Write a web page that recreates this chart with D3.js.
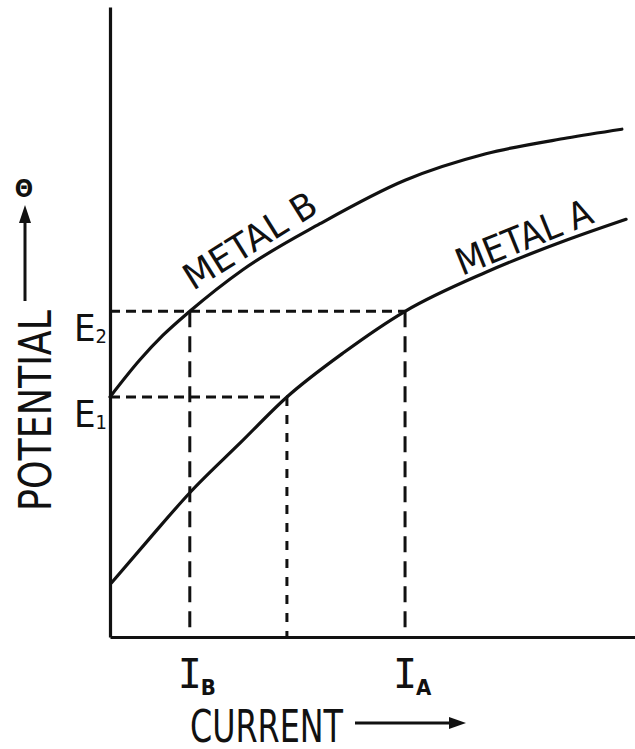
<!DOCTYPE html>
<html>
<head>
<meta charset="utf-8">
<script src="https://cdn.jsdelivr.net/npm/d3@7"></script>
<style>
  html, body { margin: 0; padding: 0; background: #fff; }
  svg { display: block; }
  text { fill: #111; }
</style>
</head>
<body>
<svg id="chart" width="635" height="749"></svg>
<script>
// Polarisation curves of two metals: potential against current.
const metalBCurrent   = [0, 5.7, 10.1, 15.2, 25.3, 40.0, 56.2, 71.6, 87.0, 97.5];
const metalBPotential = [38.1, 44.0, 47.9, 51.7, 58.3, 65.6, 72.5, 76.7, 79.2, 80.6];
const metalACurrent   = [0.3, 7.6, 15.2, 24.8, 33.7, 44.6, 56.2, 71.6, 87.0, 98.3];
const metalAPotential = [8.6, 15.7, 22.9, 30.8, 38.1, 45.2, 51.7, 57.9, 63.0, 66.3];

// Reference potentials and the currents where they meet the curves.
const levelNames  = ["1", "2"];           // subscripts of E
const levelValues = [38.1, 51.7];         // E1, E2
const levelReach  = [33.7, 56.2];         // current where each level meets metal A
const currentNames  = ["B", "A"];         // subscripts of I
const currentValues = [15.2, 56.2];       // IB, IA
const currentFloor  = [51.7, 51.7];       // potential where each current line starts
const midCurrent = 33.7;                  // metal A at E1
const midPotential = 38.1;

const svg = d3.select("#chart");
const ink = "#111";

const x = d3.scaleLinear().domain([0, 100]).range([110, 635]);
const y = d3.scaleLinear().domain([0, 100]).range([637, 7]);

// Axes: bare lines, no ticks
const xAxis = svg.append("g").attr("transform", `translate(0,${y(0)})`)
  .call(d3.axisBottom(x).tickValues([]).tickSizeOuter(0));
const yAxis = svg.append("g").attr("transform", `translate(${x(0)},0)`)
  .call(d3.axisLeft(y).tickValues([]).tickSizeOuter(0));
[xAxis, yAxis].forEach(g => g.select(".domain")
  .attr("stroke", ink).attr("stroke-width", 3.2));

// Guide lines
const guides = svg.append("g").attr("stroke", ink).attr("stroke-width", 3)
  .attr("fill", "none");
levelValues.forEach((v, i) => {
  guides.append("line")
    .attr("x1", x(0)).attr("x2", x(levelReach[i]))
    .attr("y1", y(v)).attr("y2", y(v))
    .attr("stroke-dasharray", "10,6");
});
currentValues.forEach((v, i) => {
  guides.append("line")
    .attr("x1", x(v)).attr("x2", x(v))
    .attr("y1", y(currentFloor[i])).attr("y2", y(0))
    .attr("stroke-dasharray", "16,9");
});
guides.append("line")
  .attr("x1", x(midCurrent)).attr("x2", x(midCurrent))
  .attr("y1", y(midPotential)).attr("y2", y(0))
  .attr("stroke-dasharray", "9,9");

// Curves
const line = d3.line()
  .x(d => x(d[0])).y(d => y(d[1]))
  .curve(d3.curveMonotoneX);
const curveB = d3.zip(metalBCurrent, metalBPotential);
const curveA = d3.zip(metalACurrent, metalAPotential);
[curveB, curveA].forEach(pts => {
  svg.append("path").attr("d", line(pts))
    .attr("fill", "none").attr("stroke", ink)
    .attr("stroke-width", 3.2).attr("stroke-linecap", "round");
});

const sans = "'DejaVu Sans Condensed', 'DejaVu Sans', sans-serif";

// Curve names
svg.append("text")
  .attr("transform", "translate(193,291) rotate(-32)")
  .attr("font-family", sans).attr("font-size", 36)
  .attr("textLength", 150).attr("lengthAdjust", "spacingAndGlyphs")
  .text("METAL B");
svg.append("text")
  .attr("transform", "translate(462,276) rotate(-22)")
  .attr("font-family", sans).attr("font-size", 37)
  .attr("textLength", 144).attr("lengthAdjust", "spacingAndGlyphs")
  .text("METAL A");

// Potential labels E1, E2
levelValues.forEach((v, i) => {
  const t = svg.append("text")
    .attr("x", 74).attr("y", y(v) + 30)
    .attr("font-family", sans).attr("font-size", 38);
  t.append("tspan").text("E");
  t.append("tspan").attr("font-size", 20).attr("dy", 2).text(levelNames[i]);
});

// Current labels IB, IA
currentValues.forEach((v, i) => {
  svg.append("text")
    .attr("x", x(v)).attr("y", 688)
    .attr("text-anchor", "middle")
    .attr("font-family", "'DejaVu Sans Mono', monospace").attr("font-size", 40)
    .text("I");
  svg.append("text")
    .attr("x", x(v) + 11).attr("y", 695)
    .attr("font-family", sans).attr("font-weight", "bold").attr("font-size", 22)
    .text(currentNames[i]);
});

// Axis titles with arrows
svg.append("text")
  .attr("x", 190).attr("y", 742)
  .attr("font-family", sans).attr("font-size", 44)
  .attr("textLength", 153).attr("lengthAdjust", "spacingAndGlyphs")
  .text("CURRENT");
svg.append("line").attr("x1", 355).attr("x2", 452).attr("y1", 723).attr("y2", 723)
  .attr("stroke", ink).attr("stroke-width", 3);
svg.append("path").attr("d", "M466,723 L449,717 L449,729 Z").attr("fill", ink);

svg.append("text")
  .attr("transform", "translate(51,511) rotate(-90)")
  .attr("font-family", sans).attr("font-size", 45)
  .attr("textLength", 201).attr("lengthAdjust", "spacingAndGlyphs")
  .text("POTENTIAL");
svg.append("line").attr("x1", 25).attr("x2", 25).attr("y1", 301).attr("y2", 220)
  .attr("stroke", ink).attr("stroke-width", 3);
svg.append("path").attr("d", "M25,205 L19,223 L31,223 Z").attr("fill", ink);
svg.append("text")
  .attr("x", 24).attr("y", 197)
  .attr("text-anchor", "middle")
  .attr("font-family", sans).attr("font-weight", "bold").attr("font-size", 24)
  .text("Θ");
</script>
</body>
</html>
